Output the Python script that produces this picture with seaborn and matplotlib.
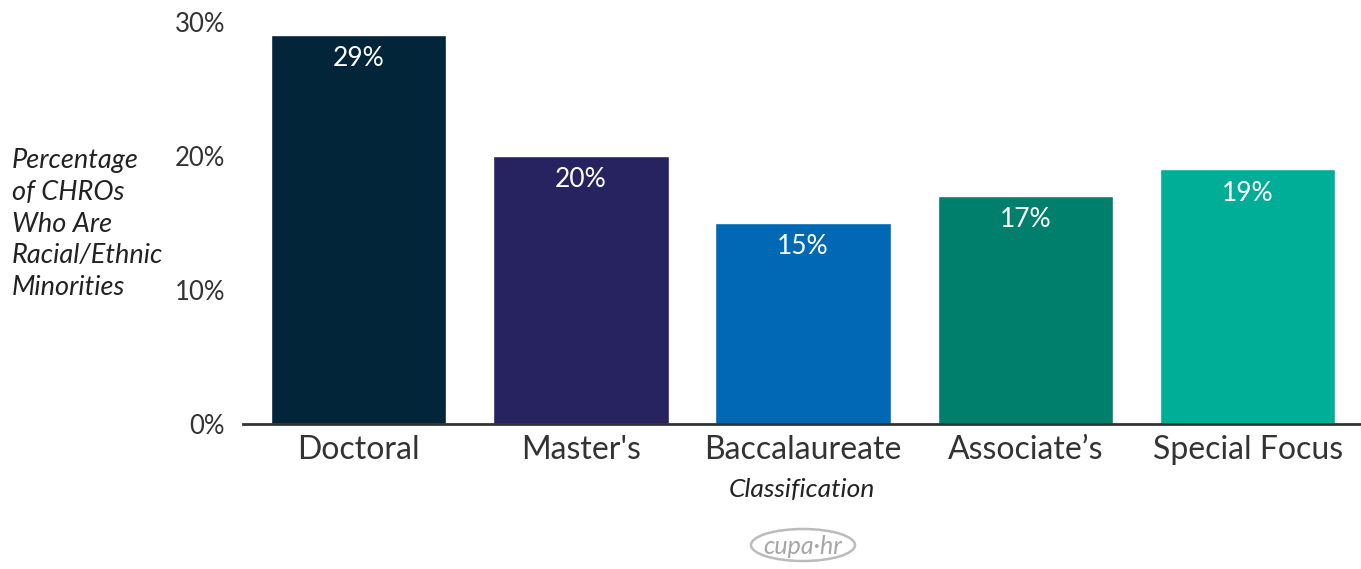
import matplotlib.pyplot as plt
import pandas as pd
import seaborn as sns
from matplotlib.patches import Ellipse

sns.set_style("white")
plt.rcParams["font.family"] = ["Lato", "DejaVu Sans"]

# data
categories = ["Doctoral", "Master's", "Baccalaureate", "Associate\u2019s", "Special Focus"]
values = [29, 20, 15, 17, 19]
bar_colors = ["#022539", "#272360", "#0068B4", "#00806C", "#00AE98"]
y_ticks = [0, 10, 20, 30]

df = pd.DataFrame({"Classification": categories, "Pct": values})

fig = plt.figure(figsize=(13.61, 5.69), dpi=100)
ax = fig.add_axes([0.1785, 0.2548, 0.8215, 0.7452])

sns.barplot(data=df, x="Classification", y="Pct", hue="Classification",
            palette=bar_colors, width=0.79, saturation=1, legend=False, ax=ax)

# value labels inside the bars
for i, v in enumerate(values):
    ax.annotate(f"{v}%", xy=(i, v), xytext=(0, -17), textcoords="offset points",
                ha="center", va="center", color="white", fontsize=19)

ax.set_xlim(-0.52, 4.51)
ax.set_ylim(0, 31.64)
ax.set_yticks(y_ticks)
ax.set_yticklabels([f"{t}%" for t in y_ticks], fontsize=18.5, color="#333333")
ax.tick_params(axis="y", length=0, pad=13)
ax.tick_params(axis="x", length=0, pad=8, labelcolor="#333333")
for lbl in ax.get_xticklabels():
    lbl.set_fontsize(23)

ax.set_ylabel("")
ax.set_xlabel("Classification", fontsize=19, style="italic", color="#222222",
              labelpad=9)

for side in ["top", "right", "left"]:
    ax.spines[side].set_visible(False)
ax.spines["bottom"].set_color("#333333")
ax.spines["bottom"].set_linewidth(2)

# y-axis title written at the left of the figure
fig.text(12 / 1361, 1 - 224 / 569,
         "Percentage\nof CHROs\nWho Are\nRacial/Ethnic\nMinorities",
         ha="left", va="center", fontsize=19.5, style="italic", color="#222222",
         linespacing=1.33)

# small grey logo at the bottom
fig.text(803 / 1361, 1 - 546 / 569, "cupa\u00b7hr", ha="center", va="center",
         fontsize=18, color="#a6a6a6", style="italic")
fig.patches.append(Ellipse((803 / 1361, 1 - 545 / 569), 104 / 1361, 32 / 569,
                           transform=fig.transFigure, fill=False,
                           edgecolor="#bbbbbb", linewidth=1.8))

fig.savefig("out.png", dpi=100)
